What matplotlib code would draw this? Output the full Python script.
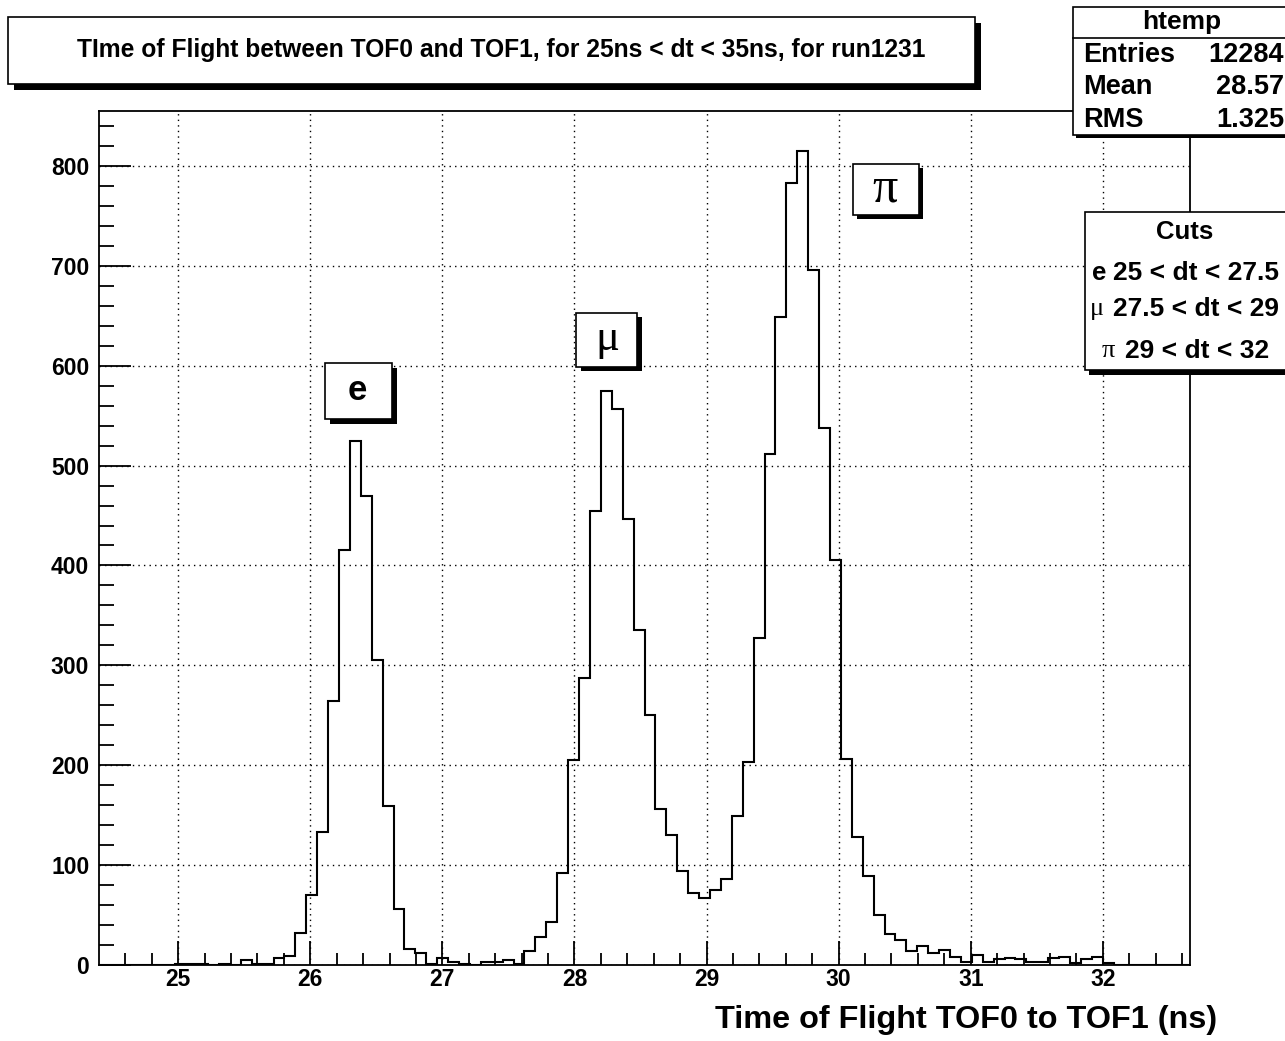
import numpy as np
import matplotlib
matplotlib.use('Agg')
import matplotlib.pyplot as plt
from matplotlib.patches import Rectangle

# ROOT-style TOF histogram (htemp), 100 bins
x_lo, x_hi = 24.40, 32.66
counts = [0, 0, 0, 0, 0, 0, 0, 1, 1, 1,
          0, 1, 0, 5, 1, 1, 7, 9, 32, 70,
          133, 264, 415, 525, 470, 305, 159, 56, 16, 12,
          1, 7, 3, 1, 0, 3, 3, 5, 1, 14,
          28, 43, 92, 205, 287, 455, 575, 557, 447, 335,
          250, 156, 130, 94, 72, 67, 75, 86, 149, 203,
          327, 512, 649, 783, 815, 696, 538, 405, 206, 128,
          89, 50, 31, 25, 14, 19, 12, 15, 8, 3,
          10, 3, 6, 7, 6, 3, 3, 7, 8, 2,
          6, 8, 2, 0, 0, 0, 0, 0, 0, 0]
xticks = [25, 26, 27, 28, 29, 30, 31, 32]
yticks = [0, 100, 200, 300, 400, 500, 600, 700, 800]

title = 'TIme of Flight between TOF0 and TOF1, for 25ns < dt < 35ns, for run1231'
xlabel = 'Time of Flight TOF0 to TOF1 (ns)'
stats = [('Entries', '12284'), ('Mean', '28.57'), ('RMS', '1.325')]
cuts = [('e', '25 < dt < 27.5'), ('\u03bc', '27.5 < dt < 29'), ('\u03c0', '29 < dt < 32')]

W, H = 1285, 1041
SANS = 'Liberation Sans'
SERIF = 'Liberation Serif'

fig = plt.figure(figsize=(W / 100, H / 100), dpi=100)
ax = fig.add_axes([99 / W, 1 - 965 / H, (1190 - 99) / W, (965 - 111) / H])

edges = np.linspace(x_lo, x_hi, len(counts) + 1)
ax.stairs(counts, edges, color='black', lw=1.5, baseline=0, zorder=3)

ax.set_xlim(x_lo, x_hi)
ax.set_ylim(0, 855)
ax.set_xticks(xticks)
ax.set_yticks(yticks)
ax.set_xticks(np.arange(24.6, 32.61, 0.2), minor=True)
ax.set_yticks(np.arange(0, 855, 20), minor=True)
ax.grid(True, which='major', color='black', ls=(0, (1, 3)), lw=1.0)
ax.tick_params(axis='both', which='both', direction='in', width=1.3, colors='black')
ax.tick_params(axis='x', which='major', length=17, pad=2)
ax.tick_params(axis='x', which='minor', length=8.5)
ax.tick_params(axis='y', which='major', length=23, pad=7)
ax.tick_params(axis='y', which='minor', length=11)
for lab in ax.get_xticklabels() + ax.get_yticklabels():
    lab.set_fontfamily(SANS)
    lab.set_fontweight('bold')
    lab.set_fontsize(16.5)
for s in ax.spines.values():
    s.set_linewidth(1.3)

fig.text(1217 / W, 1 - 1020 / H, xlabel, ha='right', va='center',
         family=SANS, weight='bold', fontsize=23.3)


def box(x0, y0, x1, y1, dx=5, dy=5, lw=1.2):
    # pixel coords, origin top-left
    if dx or dy:
        fig.add_artist(Rectangle(((x0 + dx) / W, 1 - (y1 + dy) / H),
                                 (x1 - x0) / W, (y1 - y0) / H, transform=fig.transFigure,
                                 facecolor='black', edgecolor='none', zorder=5))
    fig.add_artist(Rectangle((x0 / W, 1 - y1 / H), (x1 - x0) / W, (y1 - y0) / H,
                             transform=fig.transFigure, facecolor='white',
                             edgecolor='black', lw=lw, zorder=6))


def txt(x, y, s, ha='center', size=14, family=SANS, weight='bold'):
    fig.text(x / W, 1 - y / H, s, ha=ha, va='center', family=family,
             weight=weight, fontsize=size, zorder=7)


# title box
box(8, 17, 975, 84, dx=6, dy=6)
txt(501, 50, title, size=17.7)

# stats box
box(1073, 7, 1300, 135, dx=3, dy=3)
fig.add_artist(plt.Line2D([1073 / W, 1], [1 - 38 / H] * 2, transform=fig.transFigure,
                          color='black', lw=1.2, zorder=7))
txt(1182, 22, 'htemp', size=19)
for i, (k, v) in enumerate(stats):
    yy = 55 + i * 32.5
    txt(1083, yy, k, ha='left', size=19.5)
    txt(1284, yy, v, ha='right', size=19.5)

# cuts box
box(1085, 212, 1300, 370, dx=4, dy=5)
txt(1185, 232, 'Cuts', size=18.5)
cut_y = [273, 309, 351]
sym_x = [1092, 1090, 1102]
rng_x = [1113, 1113, 1125]
for (sym, rng), yy, sx, rx in zip(cuts, cut_y, sym_x, rng_x):
    if sym == 'e':
        txt(sx, yy, sym, ha='left', size=18.5)
    else:
        txt(sx, yy, sym, ha='left', size=19, family=SERIF, weight='normal')
    txt(rx, yy, rng, ha='left', size=19)

# particle label boxes
box(325, 363, 392, 419, dx=5, dy=5)
txt(357, 390, 'e', size=25)
box(576, 313, 637, 367, dx=5, dy=4)
txt(607, 339, '\u03bc', size=32, family=SERIF, weight='normal')
box(853, 164, 919, 215, dx=4, dy=4)
txt(885, 189, '\u03c0', size=36, family=SERIF, weight='normal')

fig.savefig('out.png', dpi=100)
